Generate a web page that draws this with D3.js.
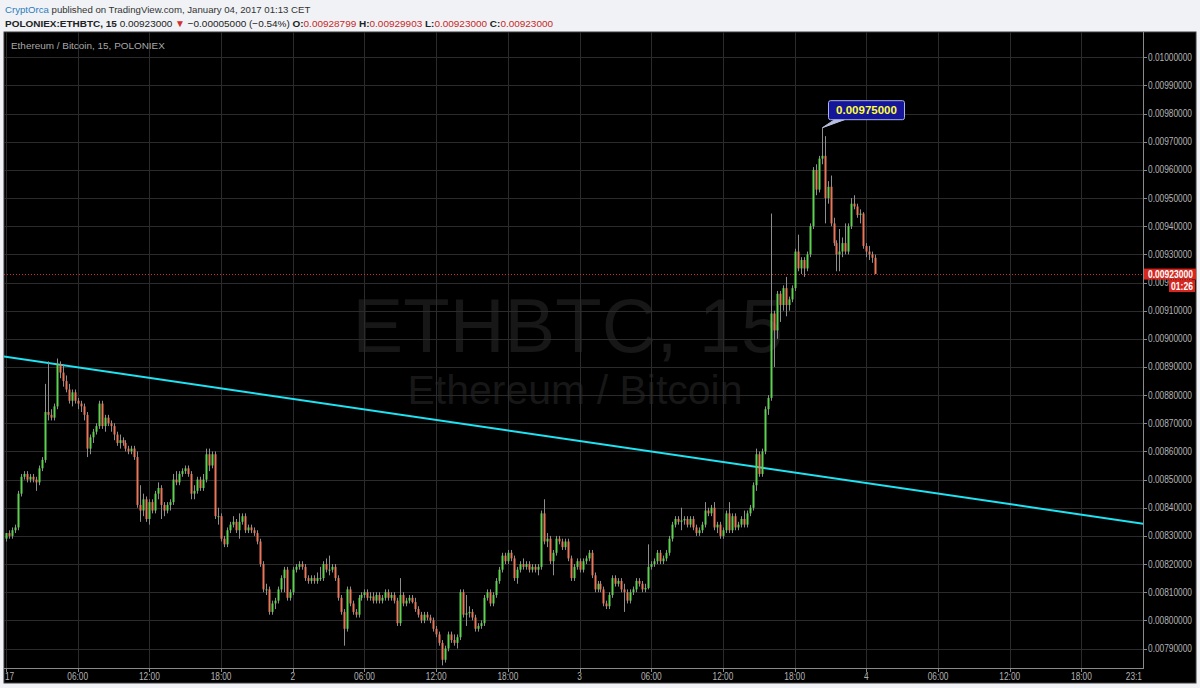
<!DOCTYPE html>
<html>
<head>
<meta charset="utf-8">
<script src="https://cdn.jsdelivr.net/npm/d3@7"></script>
<style>
  html, body { margin: 0; padding: 0; background: #f0f2f5; }
  svg { display: block; }
</style>
</head>
<body>
<svg id="chart" width="1200" height="688"></svg>
<script>
// ETH/BTC 15 min candles, Poloniex, Jan 1 - Jan 4 2017
// prices are in units of 0.00001 BTC
var priceUnit = 1e-5;
var firstBar = Date.UTC(2017, 0, 1, 0, 0);
var barMinutes = 15;

var opens = [
  829,831,830,832,833,845,851,852,850,851,850,849,
  854,857,874,873,872,876,891,888,885,882,878,881,
  878,877,876,873,861,865,867,869,877,869,872,870,
  869,866,863,864,863,861,860,861,858,841,839,843,
  836,842,839,845,847,841,839,841,842,850,849,852,
  853,854,852,845,846,850,847,850,859,855,859,837,
  837,829,827,832,834,835,832,835,837,832,833,832,
  831,828,820,811,811,803,806,807,811,815,818,808,
  810,818,819,820,819,815,814,815,814,815,815,820,
  818,818,819,815,808,803,797,811,806,803,802,808,
  809,810,808,808.5,807,809,807,808,810,808,809,807,
  799,809,806,807,808,806.5,804,802,800,802,801,800,
  797,795,792,786,790,795,793,792,794,810,802,802.5,
  803,801,797,798,799,808,810,806,809,814,818,823,
  821,824,822,815,818,820,819,820,818,819,818,819,
  838,828,829,821,824,829,828,826,828,822,815,819,
  821,818,821,822,824,816,811,813,811,806,805,809,
  815,813,814,811,810,807,810,811,814,813,811,811.5,
  819,820,821,824,821,822,824,829,834,836,835,835.5,
  836,834,836,833,831,832,834,839,838,840,833,834,
  830,832,838,832,837,833,834,836,834,838,840,848,
  859,852,860,875,879,909,903,916,912,918,912,914,
  918,931,925,928,925,930,940,960,953,964,965,950,
  954,941,934,930,931,934,931,940,948,947,944,944.5,
  933,931,930,928.799
];
var highs = [
  831,832,833,834,846,852,853,853,852,852,851,855,
  858,884,892,875,877,893,892,891,887,884,882,882,
  879,878,877,874,866,868,870,878,878,873,873,871,
  870,867,866,865,864,862,862,862,860,848,845,844,
  843,843,846,849,848,842,842,843,852,853,853,854,
  855,855,853,848,851,851,852,861,861,860,860,840,
  838,830,833,835,837,836,838,838,838,834,834,833,
  832,829,821,813,812,807,808,812,816,819,819,811,
  819,820,821,821,820,816,816,816,817,819,821,822,
  823,820,820,816,809,804,812,812,807,804,809,810,
  811,811,810,810,810,810,809,811,811,810,810,808,
  815,810,808,809,809,808,805,803,803,803,802,801,
  798,796,793,791,796,796,795,795,811,811,809,805,
  804,802,799,800,809,811,811,810,815,819,824,824,
  825,825,823,819,821,822,821,821,820,820,820,839,
  843,831,830,825,830,830,829,829,829,823,820,822,
  822,822,823,825,825,817,814,814,812,807,810,816,
  816,815,815,813,811,811,812,815,815,814,813,827,
  821,822,825,825,823,825,830,835,837,837,840,837,
  837,837,837,834,833,835,842,840,841,842,835,835,
  833,839,842,838,838,835,837,839,839,841,849,861,
  860,861,876,880,944.5,910,917,917,919,922,915,919,
  932,937,929,929,931,941,961,962,965,975,972,956,
  958,943,935,939,936,941,941,950,951,948,946,945,
  934,933,931,929.903
];
var lows = [
  828,829,829,831,832,844,850,849,849,849,846,848,
  853,856,871,871,871,875,886,883,881,877,876,877,
  875,874,871,858,859,863,866,868,868,867,869,867,
  864,862,861,862,860,859,859,857,840,835,837,835,
  834,838,838,843,836,837,838,839,841,848,848,851,
  852,851,843,843,845,846,846,849,853,854,836,834,
  828,826,826,831,833,831,829,834,831,831,831,830,
  827,819,810,809,802,802,804,806,810,810,807,807,
  809,817,818,818,814,813,813,813,813,814,814,817,
  816,817,814,807,802,791,796,805,802,801,801,807,
  808,807,807,806,806,806,806,807,807,807,806,798,
  798,805,805,806,806,803,801,799,799,800,799,796,
  794,791,784,785,789,792,791,790,793,801,798,801,
  800,796,796,797,798,807,805,805,808,813,817,820,
  820,821,814,813,817,818,818,817,817,817,816,818,
  827,826,820,816,823,827,825,825,821,814,814,818,
  817,817,820,821,815,810,810,810,805,804,804,808,
  812,812,810,803,806,806,809,810,812,810,810,811,
  818,819,820,820,820,821,823,828,833,834,832,834,
  833,833,832,830,830,831,833,837,837,832,831,829,
  829,831,831,831,832,832,833,833,833,837,839,846,
  851,851,859,873,878,890,900,906,910,908,910,913,
  917,924,923,922,924,929,939,951,952,962,941,948,
  940,933,924,924,929,930,930,939,946,943,941,932,
  929,928,927,923
];
var closes = [
  831,830,832,833,845,851,852,850,851,850,849,854,
  857,874,873,872,876,891,888,885,882,878,881,878,
  877,876,873,861,865,867,869,877,869,872,870,869,
  866,863,864,863,861,860,861,858,841,839,843,836,
  842,839,845,847,841,839,841,842,850,849,852,853,
  854,852,845,846,850,847,850,859,855,859,837,837,
  829,827,832,834,835,832,835,837,832,833,832,831,
  828,820,811,811,803,806,807,811,815,818,808,810,
  818,819,820,819,815,814,815,814,815,815,820,818,
  818,819,815,808,803,797,811,806,803,802,808,809,
  810,808,808.5,807,809,807,808,810,808,809,807,799,
  809,806,807,808,806.5,804,802,800,802,801,800,797,
  795,792,786,790,795,793,792,794,810,802,802.5,803,
  801,797,798,799,808,810,806,809,814,818,823,821,
  824,822,815,818,820,819,820,818,819,818,819,838,
  828,829,821,824,829,828,826,828,822,815,819,821,
  818,821,822,824,816,811,813,811,806,805,809,815,
  813,814,811,810,807,810,811,814,813,811,811.5,819,
  820,821,824,821,822,824,829,834,836,835,835.5,836,
  834,836,833,831,832,834,839,838,840,833,834,830,
  832,838,832,837,833,834,836,834,838,840,848,859,
  852,860,875,879,909,903,916,912,918,912,914,918,
  931,925,928,925,930,940,960,953,964,965,950,954,
  941,934,930,931,934,931,940,948,947,944,944.5,933,
  931,930,928.8,923
];

// time axis labels, one every 6 hours from Jan 1 00:00
var timeTickLabels = ["17","06:00","12:00","18:00","2","06:00","12:00","18:00",
  "3","06:00","12:00","18:00","4","06:00","12:00","18:00"];
var lastTimeLabel = "23:1";

// price axis
var priceTickMin = 790, priceTickMax = 1000, priceTickStep = 10;

// trend line drawn on the chart (two anchors)
var trendTimes = [Date.UTC(2016, 11, 31, 12, 0), Date.UTC(2017, 0, 5, 0, 0)];
var trendPrices = [901.1, 833.8];

var lastPrice = 923;
var countdown = "01:26";
var peakBar = 273;

// ---------------------------------------------------------------
var svg = d3.select("#chart");
var plotLeft = 4, plotRight = 1143, plotTop = 32, plotBottom = 668;
var panelRight = 1196, panelBottom = 683;

var x = d3.scaleUtc()
    .domain([firstBar, firstBar + 95.15 * 3600e3])
    .range([6, plotRight]);

var y = d3.scaleLinear()
    .domain([0.0079, 0.0100])
    .range([648.5, 57.3]);

var bars = closes.map(function(c, i) {
  return {
    t: firstBar + i * barMinutes * 60e3,
    o: opens[i] * priceUnit, h: highs[i] * priceUnit,
    l: lows[i] * priceUnit, c: c * priceUnit
  };
});

var uiFont = "'Liberation Sans', Arial, sans-serif";

// shrink a text's font so that its natural width matches w
function fitFont(sel, w) {
  var fs = +sel.attr("font-size");
  var len = sel.node().getComputedTextLength();
  sel.attr("font-size", (fs * w / len).toFixed(2));
}
// squeeze glyphs horizontally (narrow face look)
function squeeze(sel, k) {
  sel.each(function() {
    var len = this.getComputedTextLength();
    d3.select(this).attr("textLength", (len * k).toFixed(1)).attr("lengthAdjust", "spacingAndGlyphs");
  });
}

// header
var header = svg.append("g").attr("font-family", uiFont);
var h1 = header.append("text").attr("x", 5).attr("y", 13).attr("font-size", 12).attr("fill", "#333");
h1.append("tspan").attr("fill", "#2a7bc0").text("CryptOrca");
h1.append("tspan").text(" published on TradingView.com, January 04, 2017 01:13 CET");

var h2 = header.append("text").attr("x", 5).attr("y", 27).attr("font-size", 12).attr("fill", "#222");
h2.append("tspan").attr("font-weight", "bold").text("POLONIEX:ETHBTC, 15 ");
h2.append("tspan").text("0.00923000 ");
h2.append("tspan").attr("fill", "#d32f2f").text("\u25BC");
h2.append("tspan").text(" \u22120.00005000 (\u22120.54%) ");
[["O:", "0.00928799"], ["H:", "0.00929903"], ["L:", "0.00923000"], ["C:", "0.00923000"]].forEach(function(p, i) {
  h2.append("tspan").attr("font-weight", "bold").text((i ? " " : "") + p[0]);
  h2.append("tspan").attr("fill", "#c62828").text(p[1]);
});
fitFont(h1, 306);
fitFont(h2, 548);

// chart panel
svg.append("rect")
    .attr("x", plotLeft).attr("y", plotTop)
    .attr("width", panelRight - plotLeft).attr("height", panelBottom - plotTop)
    .attr("fill", "#000").attr("stroke", "#3c3c3c");

svg.append("clipPath").attr("id", "plot-clip")
  .append("rect")
    .attr("x", plotLeft).attr("y", plotTop)
    .attr("width", plotRight - plotLeft).attr("height", plotBottom - plotTop);

var plot = svg.append("g").attr("clip-path", "url(#plot-clip)");

// watermark
plot.append("text")
    .attr("x", 568).attr("y", 352).attr("text-anchor", "middle")
    .attr("font-family", uiFont).attr("font-size", 76)
    .attr("fill", "#171717").text("ETHBTC, 15");
plot.append("text")
    .attr("x", 575).attr("y", 404).attr("text-anchor", "middle")
    .attr("font-family", uiFont).attr("font-size", 41)
    .attr("fill", "#171717").text("Ethereum / Bitcoin");

// grid
var priceTicks = d3.range(priceTickMin, priceTickMax + 1, priceTickStep).map(function(v) { return v * priceUnit; });
var timeTicks = d3.utcHour.every(6).range(new Date(firstBar), new Date(firstBar + 91 * 3600e3));

plot.append("g").selectAll("line").data(priceTicks).join("line")
    .attr("x1", plotLeft).attr("x2", plotRight)
    .attr("y1", function(d) { return Math.round(y(d)) + 0.5; })
    .attr("y2", function(d) { return Math.round(y(d)) + 0.5; })
    .attr("stroke", "#2b2b2b");

plot.append("g").selectAll("line").data(timeTicks).join("line")
    .attr("x1", function(d) { return Math.round(x(d)) + 0.5; })
    .attr("x2", function(d) { return Math.round(x(d)) + 0.5; })
    .attr("y1", plotTop).attr("y2", plotBottom)
    .attr("stroke", "#2b2b2b");

// title
var title = svg.append("text")
    .attr("x", 11).attr("y", 49)
    .attr("font-family", uiFont).attr("font-size", 12)
    .attr("fill", "#a8a8a8").text("Ethereum / Bitcoin, 15, POLONIEX");
fitFont(title, 154);

// trend line
plot.append("line")
    .attr("x1", x(trendTimes[0])).attr("y1", y(trendPrices[0] * priceUnit))
    .attr("x2", x(trendTimes[1])).attr("y2", y(trendPrices[1] * priceUnit))
    .attr("stroke", "#1ee3f2").attr("stroke-width", 2);

// last price dotted line
plot.append("line")
    .attr("x1", plotLeft).attr("x2", plotRight)
    .attr("y1", Math.round(y(lastPrice * priceUnit)) + 0.5)
    .attr("y2", Math.round(y(lastPrice * priceUnit)) + 0.5)
    .attr("stroke", "#d32f2f").attr("stroke-dasharray", "1,2");

// candles
var up = "#5fd150", down = "#e8765a", wick = "#8e8e8e";
var candles = plot.append("g").selectAll("g").data(bars).join("g");
candles.append("line")
    .attr("x1", function(d) { return Math.round(x(d.t)) + 0.5; })
    .attr("x2", function(d) { return Math.round(x(d.t)) + 0.5; })
    .attr("y1", function(d) { return y(d.h); })
    .attr("y2", function(d) { return y(d.l); })
    .attr("stroke", wick);
candles.append("rect")
    .attr("x", function(d) { return Math.round(x(d.t)) - 0.5; })
    .attr("width", 2)
    .attr("y", function(d) { return y(Math.max(d.o, d.c)); })
    .attr("height", function(d) { return Math.max(1, Math.abs(y(d.o) - y(d.c))); })
    .attr("fill", function(d) { return d.c >= d.o ? up : down; });

// axes
var axisColor = "#8a8a8a", labelColor = "#b4b4b4";
svg.append("line").attr("x1", plotRight + 0.5).attr("x2", plotRight + 0.5)
    .attr("y1", plotTop).attr("y2", plotBottom + 1).attr("stroke", axisColor);
svg.append("line").attr("x1", plotLeft).attr("x2", plotRight + 1)
    .attr("y1", plotBottom + 0.5).attr("y2", plotBottom + 0.5).attr("stroke", axisColor);

var yAxis = svg.append("g").attr("font-family", uiFont).attr("font-size", 10);
yAxis.selectAll("line").data(priceTicks).join("line")
    .attr("x1", plotRight).attr("x2", plotRight + 4)
    .attr("y1", function(d) { return Math.round(y(d)) + 0.5; })
    .attr("y2", function(d) { return Math.round(y(d)) + 0.5; })
    .attr("stroke", axisColor);
yAxis.selectAll("text").data(priceTicks).join("text")
    .attr("x", plotRight + 5).attr("y", function(d) { return y(d) + 3.5; })
    .attr("fill", labelColor)
    .attr("textLength", 44).attr("lengthAdjust", "spacingAndGlyphs")
    .text(function(d) { return d.toFixed(8); });

var xAxis = svg.append("g").attr("font-family", uiFont).attr("font-size", 10);
xAxis.selectAll("line").data(timeTicks).join("line")
    .attr("x1", function(d) { return Math.round(x(d)) + 0.5; })
    .attr("x2", function(d) { return Math.round(x(d)) + 0.5; })
    .attr("y1", plotBottom).attr("y2", plotBottom + 4)
    .attr("stroke", axisColor);
var xLabels = xAxis.selectAll("text").data(timeTicks).join("text")
    .attr("x", function(d, i) { return i === 0 ? x(d) - 1 : x(d); })
    .attr("y", 680)
    .attr("text-anchor", function(d, i) { return i === 0 ? "start" : "middle"; })
    .attr("fill", labelColor)
    .text(function(d, i) { return timeTickLabels[i]; });
squeeze(xLabels, 0.83);
var lastLbl = xAxis.append("text")
    .attr("x", plotRight - 1).attr("y", 680).attr("text-anchor", "end")
    .attr("fill", labelColor).text(lastTimeLabel);
squeeze(lastLbl, 0.83);

// last price label
var ly = y(lastPrice * priceUnit);
svg.append("rect").attr("x", plotRight + 1).attr("y", ly - 5.5)
    .attr("width", 52).attr("height", 11).attr("fill", "#d7261e");
svg.append("text").attr("x", plotRight + 5).attr("y", ly + 3.5)
    .attr("font-family", uiFont).attr("font-size", 10).attr("font-weight", "bold")
    .attr("textLength", 45).attr("lengthAdjust", "spacingAndGlyphs")
    .attr("fill", "#fff").text((lastPrice * priceUnit).toFixed(8));
svg.append("rect").attr("x", 1169).attr("y", ly + 6)
    .attr("width", 26).attr("height", 12).attr("fill", "#d7261e");
svg.append("text").attr("x", 1182).attr("y", ly + 15.5).attr("text-anchor", "middle")
    .attr("font-family", uiFont).attr("font-size", 10).attr("font-weight", "bold")
    .attr("textLength", 22).attr("lengthAdjust", "spacingAndGlyphs")
    .attr("fill", "#fff").text(countdown);

// peak annotation
var pk = bars[peakBar];
var px = Math.round(x(pk.t)) + 0.5, py = y(pk.h);
var bx = px + 6, by = py - 27, bw = 76, bh = 19;
svg.append("path")
    .attr("d", "M" + px + "," + py + "L" + (bx + 6) + "," + (by + bh) + "L" + (bx + 16) + "," + (by + bh) + "Z")
    .attr("fill", "#b8c0e0").attr("stroke", "#b8c0e0");
svg.append("rect").attr("x", bx).attr("y", by).attr("width", bw).attr("height", bh)
    .attr("rx", 2).attr("fill", "#16169a").attr("stroke", "#aab4e6");
svg.append("text").attr("x", bx + bw / 2).attr("y", by + 13.5).attr("text-anchor", "middle")
    .attr("font-family", uiFont).attr("font-size", 11.5).attr("font-weight", "bold")
    .attr("fill", "#ffff3c").text(pk.h.toFixed(8));
</script>
</body>
</html>
